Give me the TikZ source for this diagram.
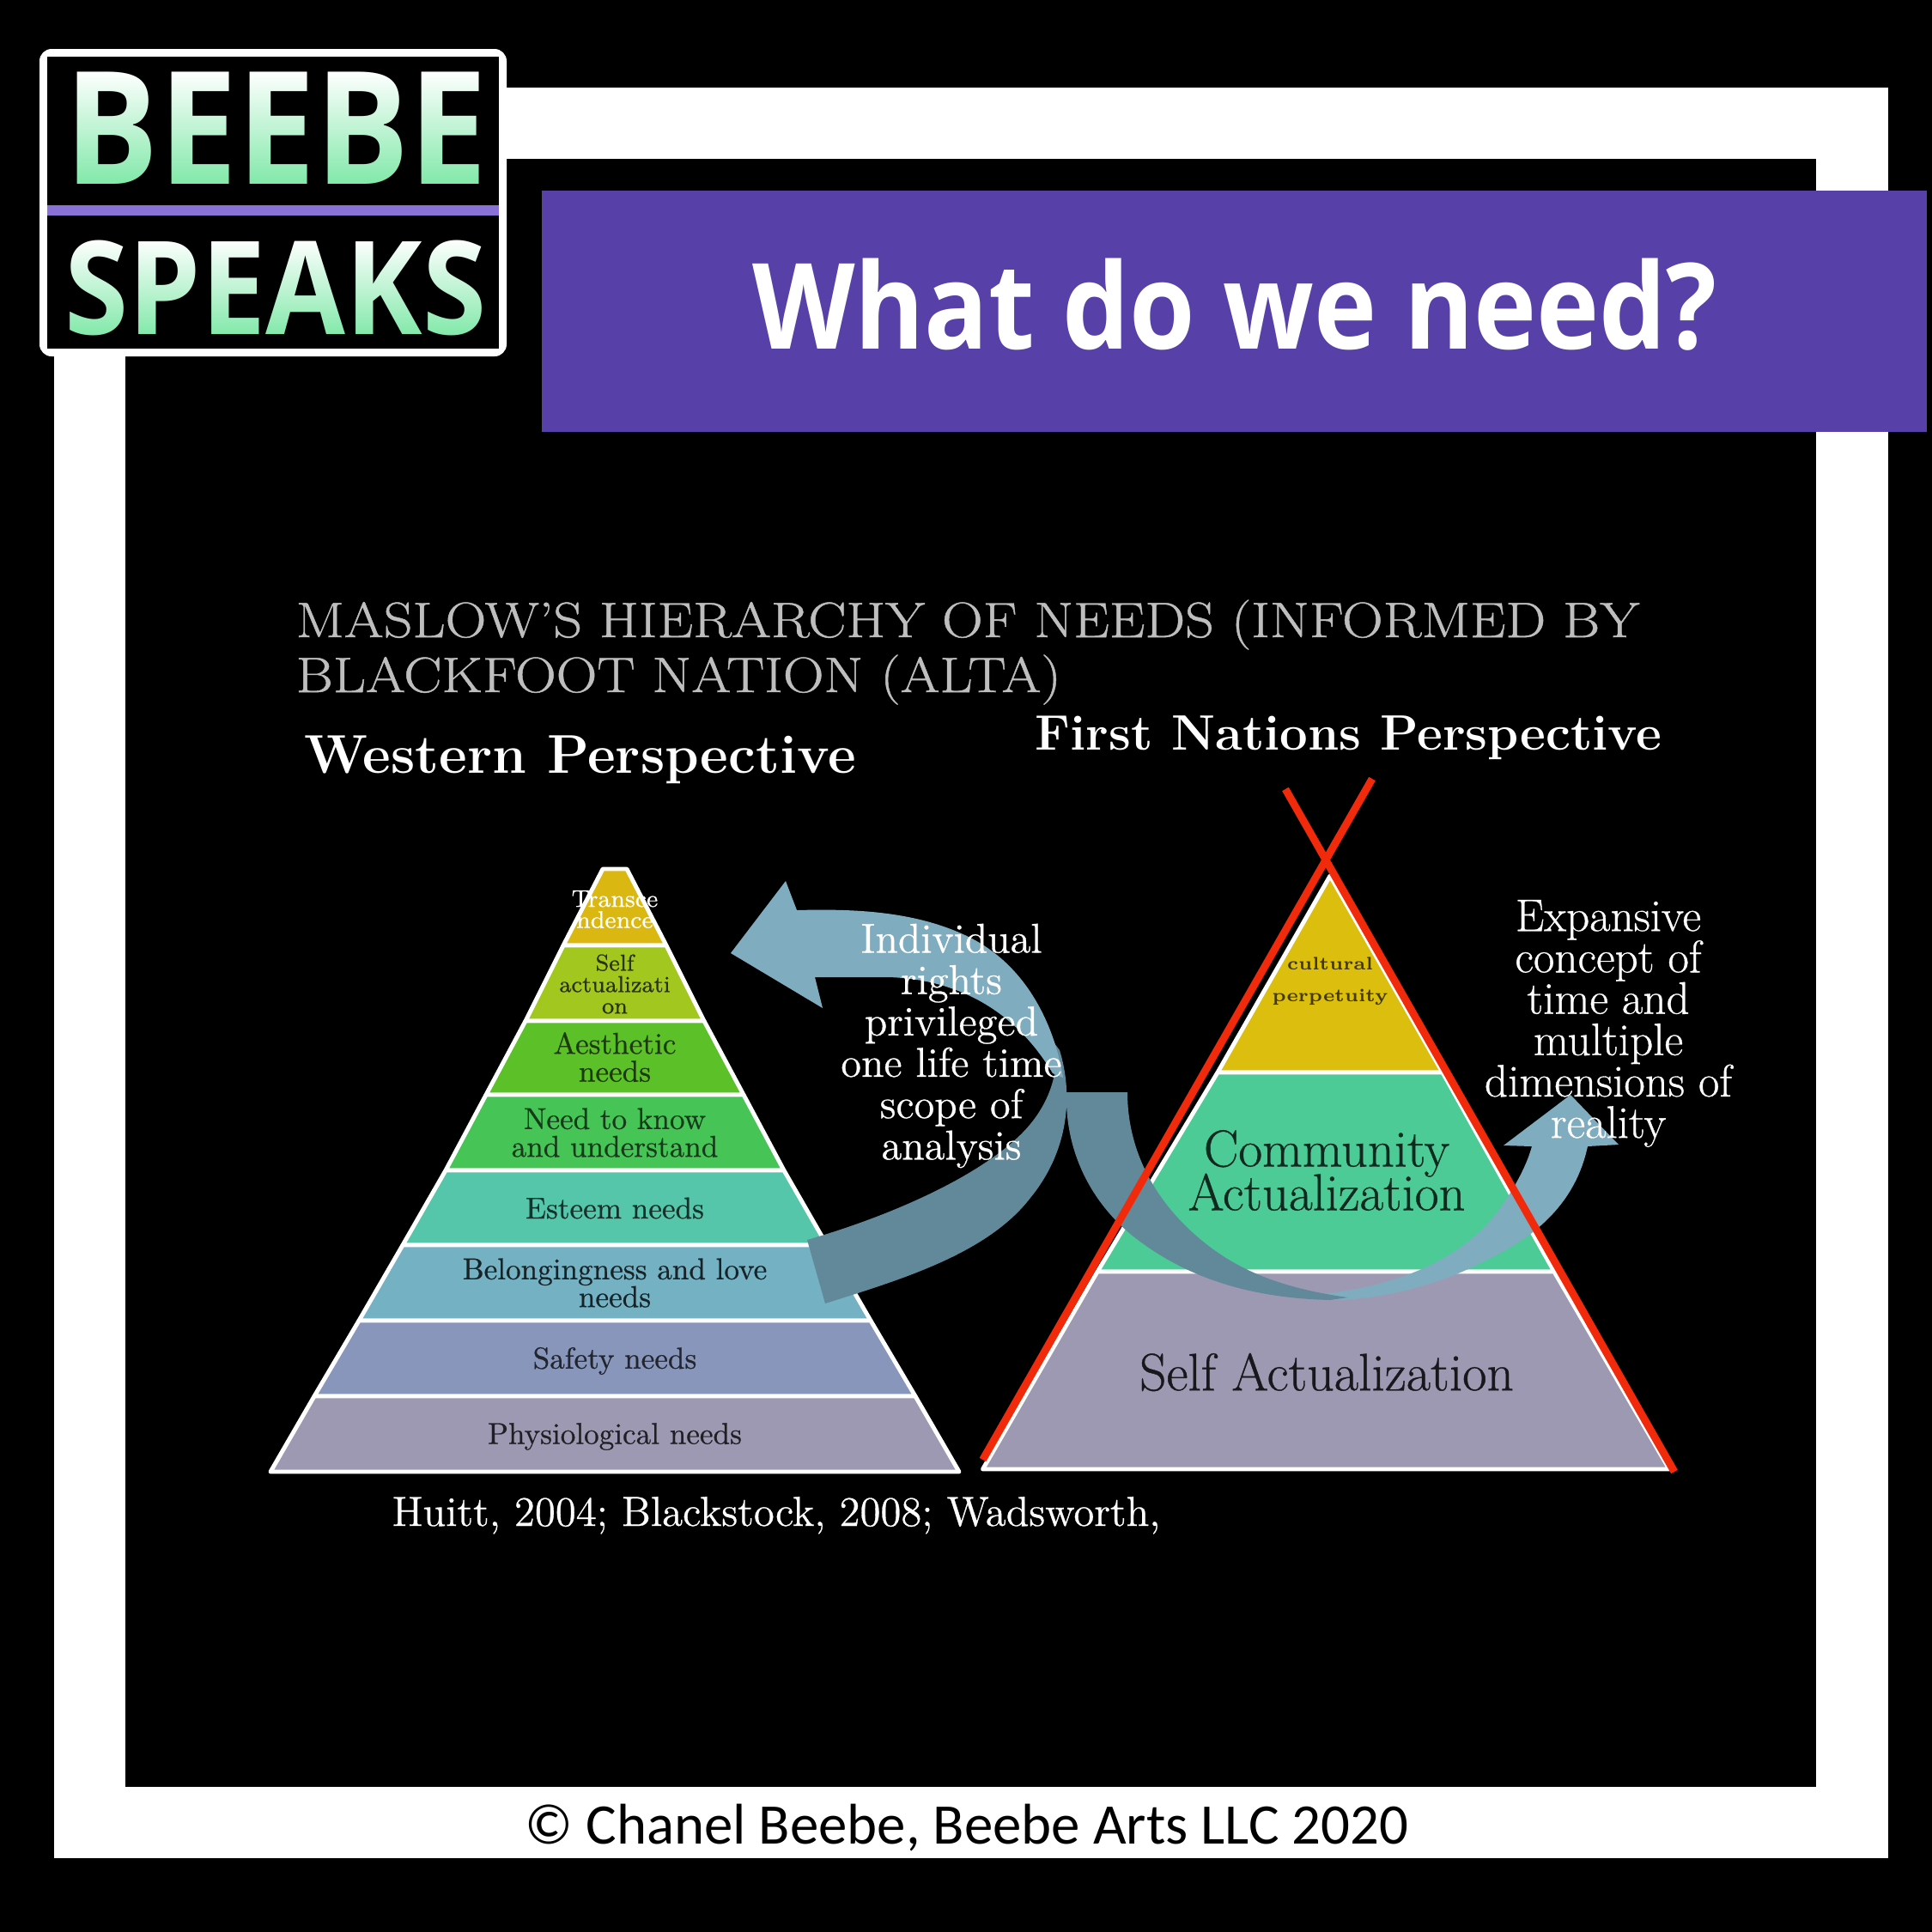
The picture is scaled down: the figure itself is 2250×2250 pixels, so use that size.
\documentclass[tikz,border=0pt]{standalone}
\usepackage{fontspec}
\newfontfamily\logofont[FakeStretch=0.89]{Open Sans}
\newfontfamily\footfont{Carlito}
\newfontfamily\slideserif[FakeBold=0.6]{Latin Modern Roman}
\newfontfamily\headfont[FakeStretch=1.14,FakeBold=0.8]{Latin Modern Roman}
\normallineskiplimit=-20pt
\lineskiplimit=-20pt
\definecolor{beebePurple}{HTML}{5741A8}
\definecolor{beebeLine}{HTML}{8872D8}
\definecolor{beebeGreen}{HTML}{80E8A8}
\definecolor{headGray}{HTML}{BEBEBE}
\definecolor{tierGold}{HTML}{DBB712}
\definecolor{tierLime}{HTML}{A2C820}
\definecolor{tierGreen}{HTML}{5CC028}
\definecolor{tierKnow}{HTML}{46C456}
\definecolor{tierEsteem}{HTML}{55C6AA}
\definecolor{tierBelong}{HTML}{74B1C3}
\definecolor{tierSafety}{HTML}{8796BA}
\definecolor{tierPhys}{HTML}{9E99B2}
\definecolor{firstGold}{HTML}{DCBE0F}
\definecolor{firstGreen}{HTML}{4CCB96}
\definecolor{crossRed}{HTML}{F02A0A}
\definecolor{arrowLight}{HTML}{7FADBF}
\definecolor{arrowDark}{HTML}{62899A}
\tikzset{
  tierEdge/.style={draw=white,line width=1.4pt,line join=round},
  tierText/.style={align=center,font=\slideserif\fontsize{10}{9.2}\selectfont},
  sideText/.style={align=center,text=white,font=\slideserif\fontsize{#1}{13.7}\selectfont},
  headText/.style={anchor=base west,inner sep=0pt,text=headGray,font=\headfont\fontsize{16.5}{17}\selectfont},
  persText/.style={anchor=base west,inner sep=0pt,text=white,font=\bfseries\fontsize{#1}{#1}\selectfont},
  redLine/.style={crossRed,line width=2.5pt},
  logoText/.style={text=white,font=\logofont\bfseries\fontsize{#1}{#1}\selectfont,inner sep=0pt}
}

\begin{document}
\begin{tikzpicture}[x=0.01cm,y=-0.01cm]
  \useasboundingbox (0,0) rectangle (2250,2250);
  \fill[black] (0,0) rectangle (2250,2250);
  \fill[white] (63,102) rectangle (2199,2164);
  \fill[black] (146,185) rectangle (2115,2081);

  % logo
  \fill[white,rounded corners=4] (46,57) rectangle (590,415);
  \fill[black] (54.5,66) rectangle (581,406);
  \fill[beebeLine] (54.5,239) rectangle (581,251);
  \node[logoText=52] (logoTop) at (322,149) {BEEBE};
  \node[logoText=43] (logoBottom) at (321,335) {SPEAKS};
  \shade[top color=white,bottom color=beebeGreen,blend mode=multiply] (60,82) rectangle (576,216);
  \shade[top color=white,bottom color=beebeGreen,blend mode=multiply] (60,278) rectangle (576,392);

  % banner
  \fill[beebePurple] (631,222) rectangle (2244,503);
  \node[text=white,font=\logofont\bfseries\fontsize{39.5}{40}\selectfont] (mainTitle) at (1438,355) {What do we need?};

  % heading
  \node[headText] (headOne) at (344,742) {MASLOW’S HIERARCHY OF NEEDS (INFORMED BY};
  \node[headText] (headTwo) at (344,806) {BLACKFOOT NATION (ALTA)};
  \node[persText=18.1] (westHead) at (354,900) {Western Perspective};
  \node[persText=16.5] (firstHead) at (1205,873) {First Nations Perspective};

  % western pyramid
  \foreach \ya/\yb/\wa/\wb/\tierCol in {1012/1101/14/60/tierGold,1101/1189/60/104/tierLime,1189/1275/104/150/tierGreen,1275/1363/150/197/tierKnow,1363/1450/197/247/tierEsteem,1450/1538/247/298/tierBelong,1538/1626/298/350/tierSafety,1626/1714/350/401/tierPhys} {
    \filldraw[tierEdge,fill=\tierCol] (716-\wa,\ya) -- (716+\wa,\ya) -- (716+\wb,\yb) -- (716-\wb,\yb) -- cycle;
  }
  \node[tierText,text=white,font=\slideserif\fontsize{8}{7}\selectfont] (wTop) at (716,1059) {Transce\\ndence};
  \node[tierText,text=tierLime!25!black,font=\slideserif\fontsize{7.6}{7.1}\selectfont] (wSelf) at (716,1146) {Self\\actualizati\\on};
  \node[tierText,text=tierGreen!30!black] (wAes) at (716,1231) {Aesthetic\\needs};
  \node[tierText,text=tierKnow!30!black] (wKnow) at (716,1319) {Need to know\\and understand};
  \node[tierText,text=tierEsteem!25!black] (wEsteem) at (716,1407) {Esteem needs};
  \node[tierText,text=tierBelong!20!black] (wBelong) at (716,1494) {Belongingness and love\\needs};
  \node[tierText,text=tierSafety!25!black] (wSafety) at (716,1585) {Safety needs};
  \node[tierText,text=tierPhys!20!black] (wPhys) at (716,1673) {Physiological needs};

  % first nations pyramid
  \filldraw[tierEdge,fill=firstGold] (1549,1020) -- (1418,1249) -- (1680,1249) -- cycle;
  \filldraw[tierEdge,fill=firstGreen] (1418,1249) -- (1680,1249) -- (1810,1481) -- (1278,1481) -- cycle;
  \filldraw[tierEdge,fill=tierPhys] (1278,1481) -- (1810,1481) -- (1944,1711) -- (1144.5,1711) -- cycle;
  \node[font=\bfseries\fontsize{6}{10.4}\selectfont,text=firstGold!30!black,align=center] (fCulture) at (1549,1143) {cultural\\perpetuity};
  \node[font=\slideserif\fontsize{17.2}{14.5}\selectfont,text=firstGreen!20!black,align=center] (fCommunity) at (1545,1363) {Community\\Actualization};
  \node[font=\slideserif\fontsize{17.5}{16}\selectfont,text=tierPhys!15!black] (fSelf) at (1545,1598) {Self Actualization};

  % curved arrows
  \fill[arrowDark] (940,1444) .. controls (1040,1415) and (1140,1370) .. (1190,1320) .. controls (1220,1290) and (1235,1250) .. (1228,1215) -- (1234,1223) .. controls (1250,1275) and (1245,1340) .. (1200,1395) .. controls (1150,1460) and (1050,1490) .. (961,1518) -- cycle;
  \fill[arrowLight] (1238,1255) .. controls (1231,1210) and (1205,1130) .. (1130,1092) .. controls (1070,1062) and (1000,1058) .. (928,1060) -- (915,1026) -- (851,1110) -- (958,1174) -- (949,1138) -- (1035,1138) .. controls (1100,1140) and (1175,1165) .. (1226,1250) -- cycle;
  \fill[arrowLight] (1530,1508) .. controls (1620,1500) and (1700,1470) .. (1745,1410) .. controls (1770,1375) and (1780,1350) .. (1784,1335) -- (1751,1334) -- (1829,1275) -- (1885,1333) -- (1849,1335) .. controls (1835,1400) and (1790,1440) .. (1730,1468) .. controls (1680,1495) and (1610,1514) .. (1549,1514) -- cycle;
  \fill[arrowDark] (1242,1272) -- (1313,1272) .. controls (1313,1340) and (1345,1400) .. (1400,1445) .. controls (1440,1478) and (1490,1500) .. (1570,1511) -- (1549,1514) .. controls (1470,1512) and (1390,1495) .. (1320,1440) .. controls (1270,1400) and (1240,1340) .. (1242,1272) -- cycle;

  % cross lines
  \coordinate (crossA) at (1144.5,1700);
  \coordinate (crossB) at (1598,907);
  \coordinate (crossC) at (1497,919);
  \coordinate (crossD) at (1950,1714);
  \draw[redLine] (crossA) -- (crossB);
  \draw[redLine] (crossC) -- (crossD);

  % side notes
  \node[sideText=13.8] (leftNote) at (1108,1218) {Individual\\rights\\privileged\\one life time\\scope of\\analysis};
  \node[sideText=15.1] (rightNote) at (1873,1192) {Expansive\\concept of\\time and\\multiple\\dimensions of\\reality};

  \node[anchor=base west,inner sep=0pt,text=white,font=\slideserif\fontsize{13.9}{14}\selectfont] (citeLine) at (456,1777) {Huitt, 2004; Blackstock, 2008; Wadsworth,};
  \node[text=black,font=\footfont\fontsize{19}{19}\selectfont] (footLine) at (1126,2129) {© Chanel Beebe, Beebe Arts LLC 2020};
\end{tikzpicture}
\end{document}
